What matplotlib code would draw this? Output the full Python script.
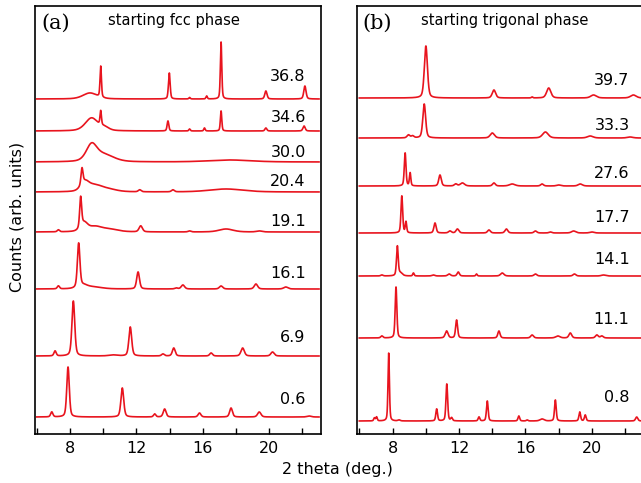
import numpy as np
import matplotlib
matplotlib.use('Agg')
import matplotlib.pyplot as plt
from matplotlib.ticker import MultipleLocator

##################################### Data #####################################

# Panel (a) - starting fcc phase : pressure labels, baseline offsets, peaks (pos, height, hwhm)
labels_a = ['36.8', '34.6', '30.0', '20.4', '19.1', '16.1', '6.9', '0.6']
offsets_a = [335, 303, 272, 242, 202, 145, 78, 17]
label_y_a = [358, 317, 282, 252, 212, 161, 96, 35]
peaks_a = [
    [(9.2, 6, 0.5), (9.85, 31, 0.05), (13.98, 26, 0.06), (15.2, 1.5, 0.05), (16.23, 3, 0.05),
     (17.1, 57, 0.05), (19.8, 8, 0.08), (22.15, 13, 0.08)],
    [(9.3, 13, 0.45), (9.85, 14, 0.05), (10.1, 3, 0.3), (13.9, 10, 0.06), (15.2, 2, 0.05),
     (16.1, 3, 0.05), (17.1, 20, 0.05), (19.8, 3, 0.07), (22.1, 5, 0.08)],
    [(9.3, 16, 0.38), (10.05, 7, 0.7), (17.6, 2, 1.5)],
    [(8.72, 16, 0.07), (8.9, 9, 0.3), (9.5, 6, 0.5), (10.3, 2.5, 0.6), (12.2, 2, 0.1),
     (14.2, 2, 0.1), (17.4, 3, 1.2)],
    [(7.3, 2, 0.08), (8.64, 30, 0.07), (8.85, 8, 0.25), (9.5, 5, 0.5), (10.4, 2.5, 0.6),
     (12.26, 6, 0.12), (15.2, 1, 0.1), (17.4, 3, 0.5), (19.4, 1, 0.2)],
    [(7.3, 3, 0.08), (8.52, 44, 0.09), (8.8, 3, 0.3), (9.4, 2, 0.6), (12.1, 17, 0.1), (14.4, 1, 0.1),
     (14.8, 4, 0.12), (17.1, 3, 0.12), (19.2, 5, 0.12), (21.0, 2, 0.15)],
    [(7.1, 5, 0.08), (8.2, 55, 0.1), (10.6, 1, 0.3), (11.63, 29, 0.1), (13.6, 2, 0.1),
     (14.25, 8, 0.1), (16.5, 3, 0.1), (18.4, 8, 0.12), (20.2, 4, 0.12)],
    [(6.9, 5, 0.08), (7.88, 50, 0.09), (11.15, 29, 0.1), (13.1, 3, 0.08), (13.7, 8, 0.1),
     (15.8, 4, 0.1), (17.7, 9, 0.1), (19.4, 5, 0.12), (22.4, 1, 0.15)],
]

# Panel (b) - starting trigonal phase
labels_b = ['39.7', '33.3', '27.6', '17.7', '14.1', '11.1', '0.8']
offsets_b = [336, 296, 248, 201, 158, 96, 13]
label_y_b = [354, 309, 261, 217, 174, 114, 36]
peaks_b = [
    [(10.0, 52, 0.11), (14.1, 8, 0.12), (16.4, 1, 0.05), (17.4, 10, 0.15), (20.1, 3, 0.2), (22.5, 3, 0.2)],
    [(8.95, 3, 0.1), (9.2, 2, 0.1), (9.9, 34, 0.1), (14.0, 5, 0.15), (17.2, 6, 0.2),
     (19.9, 2, 0.2), (22.3, 1, 0.2)],
    [(8.75, 33, 0.06), (9.05, 13, 0.05), (10.85, 11, 0.09), (11.8, 2, 0.1), (12.2, 3, 0.15),
     (14.1, 3, 0.1), (15.2, 2, 0.2), (17.0, 2, 0.1), (18.0, 1, 0.15), (19.3, 2, 0.15)],
    [(8.55, 37, 0.06), (8.8, 11, 0.05), (10.55, 10, 0.08), (11.45, 2, 0.1), (11.9, 4, 0.1),
     (13.8, 3, 0.1), (14.85, 4, 0.1), (16.6, 2, 0.1), (17.5, 1, 0.1), (18.9, 2, 0.15), (20.0, 1, 0.15)],
    [(7.35, 1, 0.08), (8.28, 29, 0.06), (8.45, 3, 0.15), (9.25, 3, 0.05), (10.45, 1, 0.1),
     (11.4, 2, 0.1), (11.95, 4, 0.08), (13.05, 2, 0.05), (14.6, 3, 0.12), (16.6, 2, 0.1),
     (18.95, 2, 0.1), (20.7, 1, 0.15)],
    [(7.35, 2, 0.08), (8.2, 51, 0.06), (11.25, 7, 0.1), (11.85, 18, 0.07), (14.4, 7, 0.08),
     (16.4, 3, 0.1), (17.95, 2, 0.15), (18.7, 5, 0.1), (20.3, 3, 0.1), (20.6, 2, 0.1)],
    [(6.9, 3, 0.05), (7.03, 4, 0.05), (7.76, 68, 0.05), (8.38, 1, 0.08), (10.65, 12, 0.06),
     (11.26, 37, 0.06), (11.55, 3, 0.06), (13.2, 4, 0.06), (13.7, 20, 0.06), (15.6, 5, 0.06),
     (16.1, 1, 0.06), (17.0, 2, 0.15), (17.8, 21, 0.06), (19.27, 9, 0.06), (19.6, 6, 0.06),
     (22.7, 4, 0.08)],
]

################################### Plotting ###################################

RED = '#e8141e'


def pattern(x, peaks):
    # pseudo-Voigt sum of the peaks
    y = np.zeros_like(x)
    for pos, h, w in peaks:
        lor = 1.0 / (1.0 + ((x - pos) / w) ** 2)
        gau = np.exp(-np.log(2) * ((x - pos) / w) ** 2)
        y += h * (0.4 * lor + 0.6 * gau)
    return y


fig = plt.figure(figsize=(6.41, 4.83), dpi=100)
ax_a = fig.add_axes([35 / 641, 49 / 483, 286 / 641, 428 / 483])
ax_b = fig.add_axes([357 / 641, 49 / 483, 287 / 641, 428 / 483])

x_a = np.linspace(6.0, 23.0, 3000)
x_b = np.linspace(5.99, 23.2, 3000)

for ax, x, labels, offs, ly, peaks, xlim, lx in [
        (ax_a, x_a, labels_a, offsets_a, label_y_a, peaks_a, (5.89, 23.12), 22.2),
        (ax_b, x_b, labels_b, offsets_b, label_y_b, peaks_b, (5.85, 23.14), 22.27)]:
    for lab, off, yy, pk in zip(labels, offs, ly, peaks):
        ax.plot(x, off + pattern(x, pk), color=RED, lw=1.2)
        ax.text(lx, yy, lab, ha='right', va='center', fontsize=11.5)
    ax.set_xlim(*xlim)
    ax.set_ylim(0, 428)
    ax.set_yticks([])
    ax.xaxis.set_major_locator(MultipleLocator(4))
    ax.xaxis.set_minor_locator(MultipleLocator(2))
    ax.tick_params(axis='x', which='both', direction='in', length=4, width=1, labelsize=11.5, pad=5)
    for sp in ax.spines.values():
        sp.set_linewidth(1.2)

ax_a.text(7.12, 411, '(a)', family='DejaVu Serif', fontsize=15, ha='center', va='center')
ax_a.text(14.26, 414, 'starting fcc phase', fontsize=10.5, ha='center', va='center')
ax_b.text(7.08, 411, '(b)', family='DejaVu Serif', fontsize=15, ha='center', va='center')
ax_b.text(14.76, 414, 'starting trigonal phase', fontsize=10.5, ha='center', va='center')

fig.text(0.527, 0.027, '2 theta (deg.)', ha='center', va='center', fontsize=11.5)
fig.text(0.027, 0.55, 'Counts (arb. units)', ha='center', va='center', rotation=90, fontsize=11.5)

fig.savefig('out.png', dpi=100)
